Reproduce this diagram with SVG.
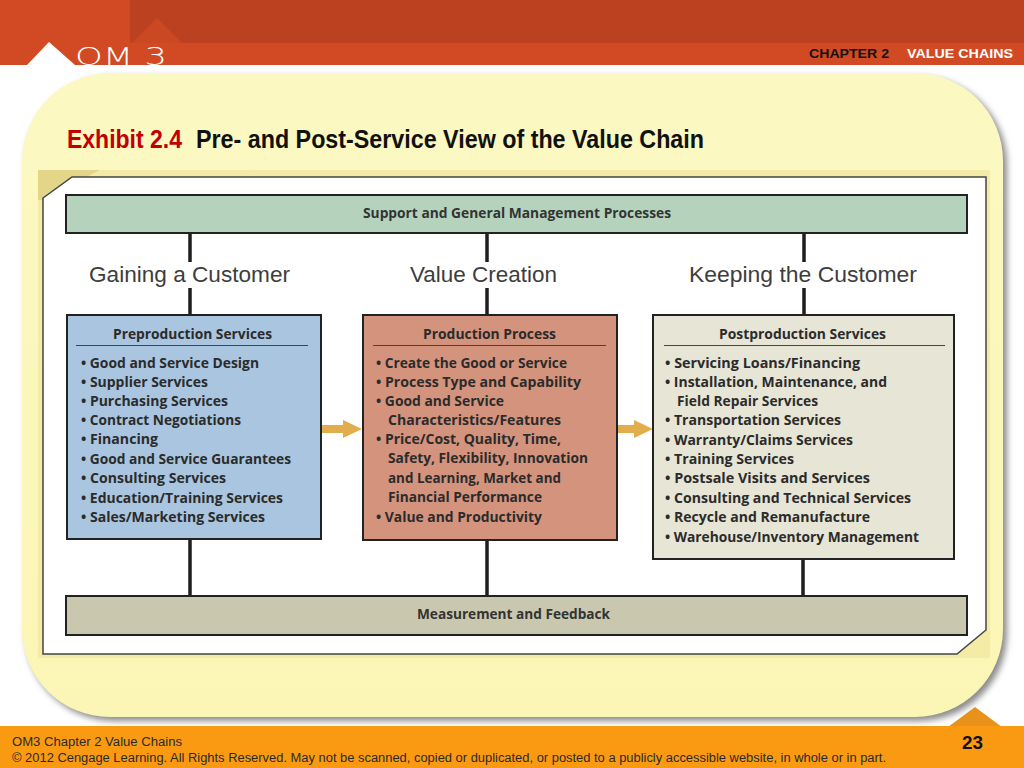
<svg xmlns="http://www.w3.org/2000/svg" width="1024" height="768" viewBox="0 0 1024 768">
<style>
.itm{font-family:"Open Sans","DejaVu Sans",sans-serif;font-weight:700;font-size:13.5px;fill:#2b2b2b}
.hd{font-family:"Open Sans","DejaVu Sans",sans-serif;font-weight:700;font-size:13.5px;fill:#2b2b2b;text-anchor:middle}
.bar{font-family:"Open Sans","DejaVu Sans",sans-serif;font-weight:700;font-size:13.5px;fill:#333}
.lbl{font-family:"Liberation Sans","Open Sans",sans-serif;font-size:22px;fill:#3d3d3d}
.box{stroke:#222;stroke-width:2}
.ln{stroke:#1e1e1e;stroke-width:3.5;fill:none}
.ul{stroke:#444;stroke-width:1.2}
.arr{fill:#E2AE4C}
.ft{font-family:"Liberation Sans",Arial,sans-serif;font-size:12.5px;fill:#2a2a2a}
</style>
<defs>
<filter id="sh" x="-5%" y="-5%" width="110%" height="110%">
<feGaussianBlur stdDeviation="3"/>
</filter>
<linearGradient id="pg" x1="0" y1="0" x2="0" y2="1">
<stop offset="0" stop-color="#FBF8C2"/>
<stop offset="1" stop-color="#FBF6B5"/>
</linearGradient>
</defs>
<!-- background -->
<rect x="0" y="0" width="1024" height="768" fill="#ffffff"/>
<!-- header -->
<g id="header">
<rect x="0" y="0" width="1024" height="65" fill="#D24A23"/>
<rect x="130" y="0" width="894" height="43" fill="#BB4120"/>
<polygon points="132,43 157,18 182,43" fill="#CB4823"/>
<polygon points="27,65 49,42 75,65" fill="#ffffff"/>
<text x="75" y="65" font-family="DejaVu Sans, Liberation Sans, sans-serif" font-weight="200" font-size="24" fill="#ffffff" textLength="92" lengthAdjust="spacingAndGlyphs">OM 3</text>
<text x="809" y="58" font-family="Liberation Sans, sans-serif" font-weight="700" font-size="13" fill="#111" textLength="80" lengthAdjust="spacingAndGlyphs">CHAPTER 2</text>
<text x="907" y="58" font-family="Liberation Sans, sans-serif" font-weight="700" font-size="13" fill="#ffffff" textLength="106" lengthAdjust="spacingAndGlyphs">VALUE CHAINS</text>
</g>
<!-- yellow panel -->
<g id="panel">
<rect x="26" y="77" width="981" height="644" rx="88" ry="88" fill="#8a8a8a" filter="url(#sh)"/>
<rect x="22" y="73" width="981" height="644" rx="88" ry="88" fill="url(#pg)"/>
<text x="67" y="148" font-family="Liberation Sans, sans-serif" font-weight="700" font-size="25" fill="#C00000" textLength="115" lengthAdjust="spacingAndGlyphs">Exhibit 2.4</text>
<text x="196" y="148" font-family="Liberation Sans, sans-serif" font-weight="700" font-size="25" fill="#111" textLength="508" lengthAdjust="spacingAndGlyphs">Pre- and Post-Service View of the Value Chain</text>
</g>
<!-- exhibit frame -->
<g id="frame">
<rect x="38" y="170" width="952" height="488" fill="#F3EBA6"/>
<polygon points="38,170 100,170 42,200 38,200" fill="#E4D688"/>
<polygon points="43,198 72,177 986,177 986,630 957,654 43,654" fill="#ffffff" stroke="#444" stroke-width="1.5"/>
</g>
<!-- connectors -->
<g id="connectors">
<line class="ln" x1="190" y1="233" x2="190" y2="262"/>
<line class="ln" x1="190" y1="288" x2="190" y2="315"/>
<line class="ln" x1="487" y1="233" x2="487" y2="262"/>
<line class="ln" x1="487" y1="288" x2="487" y2="315"/>
<line class="ln" x1="804" y1="233" x2="804" y2="262"/>
<line class="ln" x1="804" y1="288" x2="804" y2="315"/>
<line class="ln" x1="190" y1="539" x2="190" y2="596"/>
<line class="ln" x1="487" y1="540" x2="487" y2="596"/>
<line class="ln" x1="803" y1="559" x2="803" y2="596"/>
<polygon class="arr" points="285,425 343,425 343,420 362,429 343,438 343,433 285,433"/>
<polygon class="arr" points="577,425 634,425 634,420 653,429 634,438 634,433 577,433"/>
</g>
<!-- support bar -->
<g id="support">
<rect class="box" x="66" y="195" width="901" height="38" fill="#B4D2BC"/>
<text class="bar" x="363" y="218" textLength="308" lengthAdjust="spacingAndGlyphs">Support and General Management Processes</text>
</g>
<!-- labels -->
<g id="labels">
<text class="lbl" x="89" y="282" textLength="201" lengthAdjust="spacingAndGlyphs">Gaining a Customer</text>
<text class="lbl" x="410" y="282" textLength="147" lengthAdjust="spacingAndGlyphs">Value Creation</text>
<text class="lbl" x="689" y="282" textLength="228" lengthAdjust="spacingAndGlyphs">Keeping the Customer</text>
</g>
<!-- preproduction -->
<g id="preproduction">
<rect class="box" x="67" y="315" width="254" height="224" fill="#A9C5DF"/>
<text class="hd" x="192.5" y="339" textLength="159" lengthAdjust="spacingAndGlyphs">Preproduction Services</text>
<line class="ul" x1="76" y1="345.5" x2="308" y2="345.5"/>
<text class="itm" x="81" y="368" textLength="178" lengthAdjust="spacingAndGlyphs">• Good and Service Design</text>
<text class="itm" x="81" y="387" textLength="127" lengthAdjust="spacingAndGlyphs">• Supplier Services</text>
<text class="itm" x="81" y="406" textLength="147" lengthAdjust="spacingAndGlyphs">• Purchasing Services</text>
<text class="itm" x="81" y="425" textLength="160" lengthAdjust="spacingAndGlyphs">• Contract Negotiations</text>
<text class="itm" x="81" y="444" textLength="77" lengthAdjust="spacingAndGlyphs">• Financing</text>
<text class="itm" x="81" y="464" textLength="210" lengthAdjust="spacingAndGlyphs">• Good and Service Guarantees</text>
<text class="itm" x="81" y="483" textLength="145" lengthAdjust="spacingAndGlyphs">• Consulting Services</text>
<text class="itm" x="81" y="503" textLength="202" lengthAdjust="spacingAndGlyphs">• Education/Training Services</text>
<text class="itm" x="81" y="522" textLength="184" lengthAdjust="spacingAndGlyphs">• Sales/Marketing Services</text>
</g>
<!-- production -->
<g id="production">
<rect class="box" x="363" y="315" width="254" height="225" fill="#D4937D"/>
<text class="hd" x="489.5" y="339" textLength="133" lengthAdjust="spacingAndGlyphs">Production Process</text>
<line class="ul" x1="373" y1="345.5" x2="606" y2="345.5"/>
<text class="itm" x="376" y="368" textLength="191" lengthAdjust="spacingAndGlyphs">• Create the Good or Service</text>
<text class="itm" x="376" y="387" textLength="205" lengthAdjust="spacingAndGlyphs">• Process Type and Capability</text>
<text class="itm" x="376" y="406" textLength="128" lengthAdjust="spacingAndGlyphs">• Good and Service</text>
<text class="itm" x="388" y="425" textLength="173" lengthAdjust="spacingAndGlyphs">Characteristics/Features</text>
<text class="itm" x="376" y="444" textLength="185" lengthAdjust="spacingAndGlyphs">• Price/Cost, Quality, Time,</text>
<text class="itm" x="388" y="463" textLength="200" lengthAdjust="spacingAndGlyphs">Safety, Flexibility, Innovation</text>
<text class="itm" x="388" y="483" textLength="173" lengthAdjust="spacingAndGlyphs">and Learning, Market and</text>
<text class="itm" x="388" y="502" textLength="154" lengthAdjust="spacingAndGlyphs">Financial Performance</text>
<text class="itm" x="376" y="522" textLength="166" lengthAdjust="spacingAndGlyphs">• Value and Productivity</text>
</g>
<!-- postproduction -->
<g id="postproduction">
<rect class="box" x="653" y="315" width="301" height="244" fill="#E6E5D6"/>
<text class="hd" x="802.5" y="339" textLength="167" lengthAdjust="spacingAndGlyphs">Postproduction Services</text>
<line class="ul" x1="664" y1="345.5" x2="945" y2="345.5"/>
<text class="itm" x="665" y="368" textLength="195" lengthAdjust="spacingAndGlyphs">• Servicing Loans/Financing</text>
<text class="itm" x="665" y="387" textLength="222" lengthAdjust="spacingAndGlyphs">• Installation, Maintenance, and</text>
<text class="itm" x="677" y="406" textLength="141" lengthAdjust="spacingAndGlyphs">Field Repair Services</text>
<text class="itm" x="665" y="425" textLength="176" lengthAdjust="spacingAndGlyphs">• Transportation Services</text>
<text class="itm" x="665" y="445" textLength="188" lengthAdjust="spacingAndGlyphs">• Warranty/Claims Services</text>
<text class="itm" x="665" y="464" textLength="129" lengthAdjust="spacingAndGlyphs">• Training Services</text>
<text class="itm" x="665" y="483" textLength="205" lengthAdjust="spacingAndGlyphs">• Postsale Visits and Services</text>
<text class="itm" x="665" y="503" textLength="246" lengthAdjust="spacingAndGlyphs">• Consulting and Technical Services</text>
<text class="itm" x="665" y="522" textLength="205" lengthAdjust="spacingAndGlyphs">• Recycle and Remanufacture</text>
<text class="itm" x="665" y="542" textLength="254" lengthAdjust="spacingAndGlyphs">• Warehouse/Inventory Management</text>
</g>
<!-- measurement bar -->
<g id="measurement">
<rect class="box" x="66" y="596" width="901" height="39" fill="#C9C7AE"/>
<text class="bar" x="417" y="619" textLength="193" lengthAdjust="spacingAndGlyphs">Measurement and Feedback</text>
</g>
<!-- footer -->
<g id="footer">
<polygon points="948,727 975,707 1002,727" fill="#E8921C"/>
<rect x="0" y="726" width="1024" height="42" fill="#FA9A12"/>
<text class="ft" x="12" y="746" textLength="170" lengthAdjust="spacingAndGlyphs">OM3 Chapter 2  Value Chains</text>
<text class="ft" x="12" y="762" textLength="874" lengthAdjust="spacingAndGlyphs">© 2012 Cengage Learning.  All Rights Reserved.  May not be scanned, copied or duplicated, or posted to a publicly accessible website, in whole or in part.</text>
<text x="962" y="749" font-family="Liberation Sans, sans-serif" font-weight="700" font-size="19" fill="#111" textLength="21" lengthAdjust="spacingAndGlyphs">23</text>
</g>
</svg>
